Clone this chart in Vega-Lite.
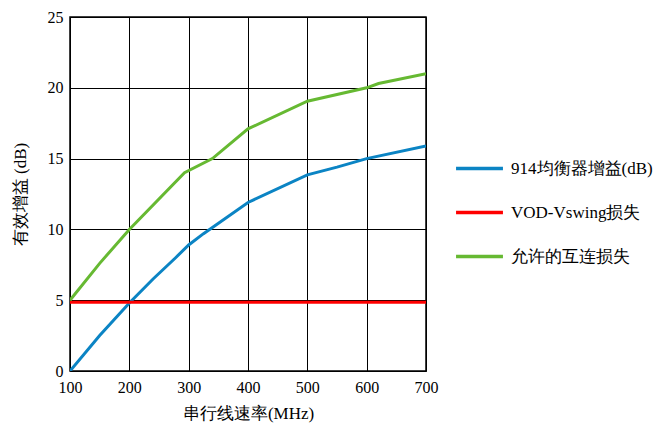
{
  "$schema": "https://vega.github.io/schema/vega-lite/v6.json",
  "width": 356,
  "height": 354,
  "autosize": {"type": "none"},
  "padding": {"left": 70, "top": 17, "right": 239, "bottom": 61},
  "background": "white",
  "config": {
    "view": {"stroke": "black", "strokeWidth": 1.5},
    "font": "Liberation Serif, Times New Roman, serif"
  },
  "data": {
    "values": [
      {"x": 100, "y": 0, "s": "914均衡器增益(dB)"},
      {"x": 150, "y": 2.5, "s": "914均衡器增益(dB)"},
      {"x": 200, "y": 4.8, "s": "914均衡器增益(dB)"},
      {"x": 240, "y": 6.5, "s": "914均衡器增益(dB)"},
      {"x": 278, "y": 8.0, "s": "914均衡器增益(dB)"},
      {"x": 300, "y": 8.9, "s": "914均衡器增益(dB)"},
      {"x": 325, "y": 9.7, "s": "914均衡器增益(dB)"},
      {"x": 400, "y": 11.9, "s": "914均衡器增益(dB)"},
      {"x": 500, "y": 13.85, "s": "914均衡器增益(dB)"},
      {"x": 550, "y": 14.4, "s": "914均衡器增益(dB)"},
      {"x": 600, "y": 15.0, "s": "914均衡器增益(dB)"},
      {"x": 700, "y": 15.9, "s": "914均衡器增益(dB)"},
      {"x": 100, "y": 4.85, "s": "VOD-Vswing损失"},
      {"x": 700, "y": 4.85, "s": "VOD-Vswing损失"},
      {"x": 100, "y": 5.0, "s": "允许的互连损失"},
      {"x": 150, "y": 7.6, "s": "允许的互连损失"},
      {"x": 200, "y": 10.0, "s": "允许的互连损失"},
      {"x": 293, "y": 14.0, "s": "允许的互连损失"},
      {"x": 340, "y": 15.0, "s": "允许的互连损失"},
      {"x": 400, "y": 17.1, "s": "允许的互连损失"},
      {"x": 500, "y": 19.05, "s": "允许的互连损失"},
      {"x": 600, "y": 20.0, "s": "允许的互连损失"},
      {"x": 620, "y": 20.3, "s": "允许的互连损失"},
      {"x": 700, "y": 21.0, "s": "允许的互连损失"}
    ]
  },
  "mark": {"type": "line", "strokeWidth": 3, "clip": true},
  "encoding": {
    "x": {
      "field": "x", "type": "quantitative",
      "scale": {"domain": [100, 700], "nice": false, "zero": false},
      "axis": {
        "values": [100, 200, 300, 400, 500, 600, 700],
        "title": "串行线速率(MHz)", "titleFontWeight": "normal",
        "titleFontSize": 17, "titleColor": "black", "titlePadding": 10,
        "labelFontSize": 16, "labelColor": "black", "labelPadding": 8, "labelFlush": false,
        "ticks": false, "domain": false,
        "grid": true, "gridColor": "black", "gridOpacity": 1, "gridWidth": 1
      }
    },
    "y": {
      "field": "y", "type": "quantitative",
      "scale": {"domain": [0, 25], "nice": false},
      "axis": {
        "values": [0, 5, 10, 15, 20, 25],
        "title": "有效增益 (dB)", "titleFontWeight": "normal",
        "titleFontSize": 17, "titleColor": "black", "titlePadding": 18,
        "labelFontSize": 16, "labelColor": "black", "labelPadding": 7,
        "ticks": false, "domain": false,
        "grid": true, "gridColor": "black", "gridOpacity": 1, "gridWidth": 1
      }
    },
    "color": {
      "field": "s", "type": "nominal",
      "scale": {
        "domain": ["914均衡器增益(dB)", "VOD-Vswing损失", "允许的互连损失"],
        "range": ["#0b84c4", "#ff0000", "#66b932"]
      },
      "legend": {
        "orient": "none", "legendX": 384, "legendY": 126,
        "title": null, "symbolType": "stroke", "symbolSize": 2200,
        "symbolStrokeWidth": 3.5, "labelFontSize": 17, "labelColor": "black",
        "labelFont": "Liberation Serif, Times New Roman, serif", "rowPadding": 10, "labelOffset": 6,
        "labelLimit": 300
      }
    }
  }
}
